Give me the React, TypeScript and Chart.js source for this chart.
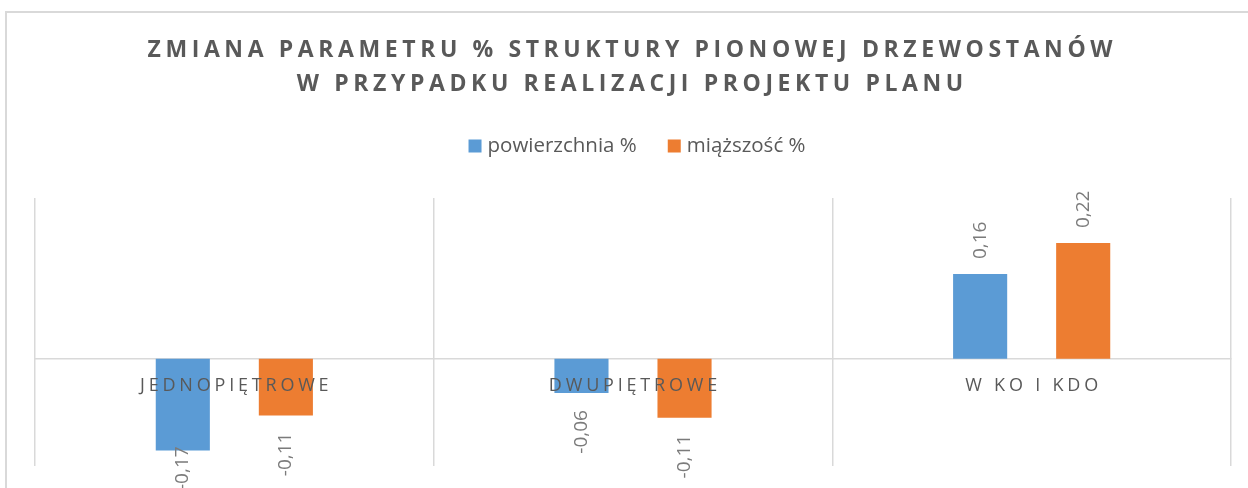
import React, { useEffect, useRef } from 'react';
import { Chart, registerables } from 'chart.js';

Chart.register(...registerables);

// ---- data ----
const TITLE_LINES = [
  'ZMIANA PARAMETRU % STRUKTURY PIONOWEJ DRZEWOSTANÓW',
  'W PRZYPADKU REALIZACJI PROJEKTU PLANU',
];
const CATEGORIES = ['JEDNOPIĘTROWE', 'DWUPIĘTROWE', 'W KO I KDO'];
const SERIES_NAMES = ['powierzchnia %', 'miąższość %'];
const POWIERZCHNIA = [-0.171, -0.064, 0.158];
const MIAZSZOSC = [-0.106, -0.11, 0.216];
const Y_MIN = -0.2;
const Y_MAX = 0.3;

// ---- styles ----
const COLORS = ['#5b9bd5', '#ed7d31'];
const TEXT = '#595959';
const LABEL_TEXT = '#7b7b7b';
const GRID = '#d9d9d9';
const FONT = '"Open Sans", "DejaVu Sans", sans-serif';

function fmt(v: number): string {
  return v.toFixed(2).replace('.', ',');
}

function drawSpaced(
  ctx: CanvasRenderingContext2D,
  text: string,
  x: number,
  y: number,
  spacing: number
) {
  const c: any = ctx;
  if ('letterSpacing' in c) {
    c.letterSpacing = spacing + 'px';
    ctx.textAlign = 'center';
    ctx.fillText(text, x + spacing / 2, y);
    c.letterSpacing = '0px';
    return;
  }
  const chars = Array.from(text);
  const widths = chars.map((ch) => ctx.measureText(ch).width);
  const total = widths.reduce((a, b) => a + b, 0) + spacing * (chars.length - 1);
  let cx = x - total / 2;
  ctx.textAlign = 'left';
  chars.forEach((ch, i) => {
    ctx.fillText(ch, cx, y);
    cx += widths[i] + spacing;
  });
}

const textPlugin = {
  id: 'excelText',
  afterDatasetsDraw(chart: any) {
    const { ctx, chartArea } = chart;
    const xs = chart.scales.x;
    const ys = chart.scales.y;
    const zero = ys.getPixelForValue(0);
    const cx = (chartArea.left + chartArea.right) / 2;

    ctx.save();
    ctx.textBaseline = 'middle';

    // title
    ctx.fillStyle = TEXT;
    ctx.font = 'bold 23px ' + FONT;
    TITLE_LINES.forEach((line, i) => drawSpaced(ctx, line, cx - 3, 50.5 + i * 34, 4.6));

    // legend
    ctx.font = '20.5px ' + FONT;
    const BOX = 13;
    const GAP = 6;
    const SPACE = 31;
    const items = chart.data.datasets.map((ds: any) => ({
      text: ds.label as string,
      color: ds.backgroundColor as string,
      w: ctx.measureText(ds.label).width,
    }));
    const total =
      items.reduce((a: number, it: any) => a + BOX + GAP + it.w, 0) + SPACE * (items.length - 1);
    let lx = cx + 4 - total / 2;
    const ly = 146;
    items.forEach((it: any) => {
      ctx.fillStyle = it.color;
      ctx.fillRect(lx, ly - BOX / 2, BOX, BOX);
      ctx.fillStyle = TEXT;
      ctx.textAlign = 'left';
      ctx.fillText(it.text, lx + BOX + GAP, ly);
      lx += BOX + GAP + it.w + SPACE;
    });

    // category labels (over the bars, just below the zero line)
    ctx.font = '18px ' + FONT;
    ctx.fillStyle = TEXT;
    CATEGORIES.forEach((cat, i) => {
      drawSpaced(ctx, cat, xs.getPixelForValue(i), zero + 27, 3.8);
    });

    // data labels, rotated
    ctx.font = '19px ' + FONT;
    ctx.fillStyle = LABEL_TEXT;
    chart.data.datasets.forEach((ds: any, di: number) => {
      const meta = chart.getDatasetMeta(di);
      meta.data.forEach((bar: any, i: number) => {
        const v = ds.data[i] as number;
        const text = fmt(v);
        const w = ctx.measureText(text).width;
        ctx.save();
        if (v >= 0) {
          ctx.translate(bar.x, bar.y - 15);
        } else {
          const end = Math.min(bar.y + 17 + w, chart.height + 2);
          ctx.translate(bar.x, end);
        }
        ctx.rotate(-Math.PI / 2);
        ctx.textAlign = 'left';
        ctx.textBaseline = 'middle';
        ctx.fillText(text, 0, 0);
        ctx.restore();
      });
    });

    ctx.restore();
  },
};

export default function App() {
  const ref = useRef<HTMLCanvasElement | null>(null);

  useEffect(() => {
    if (!ref.current) return;
    const chart = new Chart(ref.current, {
      type: 'bar',
      data: {
        labels: CATEGORIES,
        datasets: [
          {
            label: SERIES_NAMES[0],
            data: POWIERZCHNIA,
            backgroundColor: COLORS[0],
            categoryPercentage: 0.517,
            barPercentage: 0.525,
          },
          {
            label: SERIES_NAMES[1],
            data: MIAZSZOSC,
            backgroundColor: COLORS[1],
            categoryPercentage: 0.517,
            barPercentage: 0.525,
          },
        ],
      },
      options: {
        animation: false,
        responsive: false,
        layout: { padding: { left: 35, right: 17, top: 198, bottom: 22 } },
        plugins: {
          legend: { display: false },
          title: { display: false },
          tooltip: { enabled: false },
        },
        scales: {
          x: {
            position: { y: 0 } as any,
            grid: { color: GRID, lineWidth: 1.5, drawTicks: false, offset: true },
            border: { color: GRID, width: 1.5 },
            ticks: { display: false },
          },
          y: { display: false, min: Y_MIN, max: Y_MAX },
        },
      },
      plugins: [textPlugin],
    });
    let alive = true;
    if ((document as any).fonts && (document as any).fonts.ready) {
      (document as any).fonts.ready.then(() => {
        if (alive) chart.draw();
      });
    }
    return () => {
      alive = false;
      chart.destroy();
    };
  }, []);

  return (
    <div
      style={{
        position: 'fixed',
        left: 0,
        top: 0,
        width: 1248,
        height: 488,
        overflow: 'hidden',
        background: '#ffffff',
      }}
    >
      <div
        style={{
          position: 'absolute',
          left: 5,
          top: 11,
          width: 1400,
          height: 700,
          borderTop: '2px solid #d9d9d9',
          borderLeft: '2px solid #d9d9d9',
        }}
      />
      <canvas
        ref={ref}
        width={1248}
        height={488}
        style={{ position: 'absolute', left: 0, top: 0 }}
      />
    </div>
  );
}
